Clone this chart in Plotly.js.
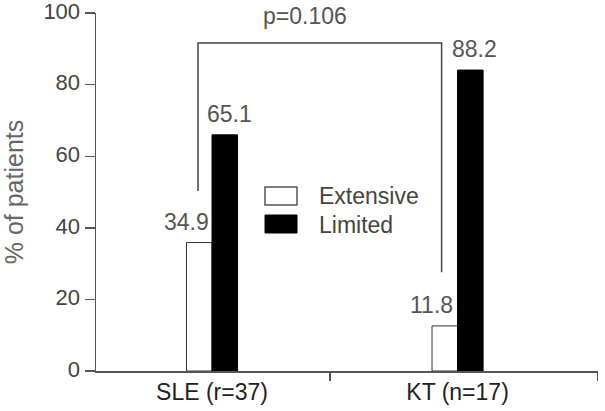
<!DOCTYPE html>
<html><head><meta charset="utf-8">
<script src="https://cdn.plot.ly/plotly-3.0.1.min.js"></script>
<style>html,body{margin:0;padding:0;background:#fff}#chart{width:605px;height:411px}</style>
</head><body><div id="chart"></div>
<script>
const categories = ['SLE (r=37)', 'KT (n=17)'];
const seriesNames = ['Extensive', 'Limited'];
const extensive = [35.9, 12.6];
const limited = [66.0, 84.1];
const extensiveLabels = ['34.9', '11.8'];
const limitedLabels = ['65.1', '88.2'];
const yTicks = [0, 20, 40, 60, 80, 100];
const pText = 'p=0.106';

const FONT = 'Liberation Sans, Arial, sans-serif';
const xr = [-0.4725, 1.572];
const TOP = 13, BOT = 371, H = BOT - TOP;

const traces = [
  {type:'bar', name:seriesNames[0], x:categories, y:extensive,
   marker:{color:'#ffffff', line:{color:'#333333', width:1}}, showlegend:false},
  {type:'bar', name:seriesNames[1], x:categories, y:limited,
   marker:{color:'#000000', line:{color:'#000000', width:1}}, showlegend:false},
  {type:'scatter', x:[0], y:[0], xaxis:'x2', mode:'markers', marker:{opacity:0}, hoverinfo:'skip', showlegend:false}
];

const px = v => (v-96)/502, py = v => (BOT-v)/H;

const annotations = [];
categories.forEach((c,i)=>{
  annotations.push({x:c, y:extensive[i], text:extensiveLabels[i], showarrow:false,
    xshift:-26, yshift:21, yanchor:'middle', font:{family:FONT, size:23, color:'#555'}});
  annotations.push({x:c, y:limited[i], text:limitedLabels[i], showarrow:false,
    xshift:17, yshift:21, yanchor:'middle', font:{family:FONT, size:23, color:'#555'}});
});
annotations.push({xref:'x', yref:'paper', x:0.379, y:py(16), text:pText, showarrow:false,
  yanchor:'middle', font:{family:FONT, size:23, color:'#555'}});
// custom legend text
annotations.push({xref:'paper', yref:'paper', x:px(317), y:py(196), text:seriesNames[0],
  showarrow:false, xanchor:'left', yanchor:'middle', font:{family:FONT, size:23, color:'#444'}});
annotations.push({xref:'paper', yref:'paper', x:px(317), y:py(225), text:seriesNames[1],
  showarrow:false, xanchor:'left', yanchor:'middle', font:{family:FONT, size:23, color:'#444'}});

const shapes = [
  // bracket
  {type:'path', xref:'x', yref:'y', path:'M -0.057 50.3 L -0.057 91.7 L 0.935 91.7 L 0.935 27.6',
   line:{color:'#444', width:1.5}},
  // legend boxes
  {type:'rect', xref:'paper', yref:'paper', x0:px(265), x1:px(297), y0:py(205), y1:py(187),
   line:{color:'#555', width:1.5}, fillcolor:'#fff'},
  {type:'rect', xref:'paper', yref:'paper', x0:px(265), x1:px(297), y0:py(233), y1:py(215),
   line:{color:'#000', width:1}, fillcolor:'#000'}
];

const layout = {
  width:605, height:411,
  margin:{l:96, r:7, t:TOP, b:411-BOT},
  paper_bgcolor:'#fff', plot_bgcolor:'#fff',
  barmode:'group', bargap:0.792, bargroupgap:0,
  font:{family:FONT, size:22, color:'#444'},
  xaxis:{type:'category', range:xr, showgrid:false, zeroline:false,
    showline:true, linecolor:'#555', linewidth:1.5, ticks:'', ticklen:0,
    tickfont:{family:FONT, size:23, color:'#222'}, fixedrange:true},
  xaxis2:{overlaying:'x', type:'linear', range:xr, side:'bottom', showgrid:false, zeroline:false,
    showline:false, tickmode:'array', tickvals:[0.48, 1.57], ticks:'outside', ticklen:9,
    tickwidth:1.5, tickcolor:'#555', showticklabels:false},
  yaxis:{range:[0,100.05], tickmode:'array', tickvals:yTicks, showgrid:false, zeroline:false,
    showline:true, linecolor:'#555', linewidth:1.5, ticks:'outside', ticklen:10, tickwidth:1.5,
    tickcolor:'#555', tickfont:{family:FONT, size:22, color:'#444'}, ticklabeloverflow:'allow',
    ticklabelshift:-2,
    title:{text:'% of patients', font:{family:FONT, size:25, color:'#666'}, standoff:22}},
  annotations:annotations, shapes:shapes, showlegend:false
};
Plotly.newPlot('chart', traces, layout, {staticPlot:true, displayModeBar:false});
</script></body></html>
